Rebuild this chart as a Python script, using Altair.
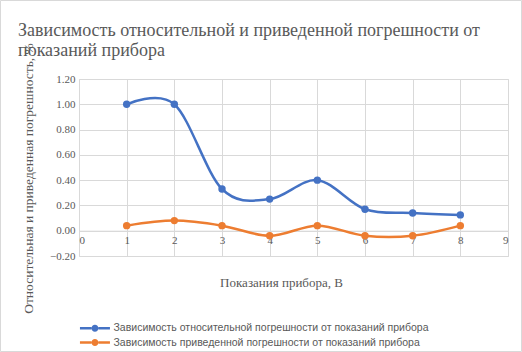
import altair as alt
import pandas as pd

x_vals = [1, 2, 3, 4, 5, 6, 7, 8]
rel_err = [1.00, 1.00, 0.33, 0.25, 0.40, 0.17, 0.14, 0.125]
red_err = [0.04, 0.08, 0.04, -0.04, 0.04, -0.04, -0.04, 0.04]
s1 = "Зависимость относительной погрешности от показаний прибора"
s2 = "Зависимость приведенной погрешности от показаний прибора"
grid_x = [0, 1, 2, 3, 4, 5, 6, 7, 8, 9]
y_ticks = [-0.2, 0.0, 0.2, 0.4, 0.6, 0.8, 1.0, 1.2]

df = pd.DataFrame({
    "x": x_vals * 2,
    "y": rel_err + red_err,
    "s": [s1] * len(x_vals) + [s2] * len(x_vals),
})
frame_df = pd.DataFrame({"k": [0]})

GRID = "#d9d9d9"
TXT = "#595959"
SERIF = "Liberation Serif"

xs = alt.Scale(domain=[0, 9], nice=False, zero=False)
ys = alt.Scale(domain=[-0.2, 1.2], nice=False, zero=False)
color = alt.Color("s:N", scale=alt.Scale(domain=[s1, s2], range=["#4472C4", "#ED7D31"]),
                  legend=alt.Legend(
                      title=None, orient="none", legendX=10.7, legendY=244,
                      direction="vertical",
                      symbolType="M-3,-0.25H-0.7V0.25H-3Z M0.7,-0.25H3V0.25H0.7Z M-0.7,0A0.7,0.7 0 1,0 0.7,0A0.7,0.7 0 1,0 -0.7,0Z",
                      symbolSize=100, symbolStrokeWidth=0, labelOffset=13.3,
                      labelFont="Liberation Sans", labelFontSize=10.5, labelColor=TXT,
                      rowPadding=3.3, padding=0, labelLimit=500))

base = alt.Chart(df).encode(
    x=alt.X("x:Q", scale=xs,
            axis=alt.Axis(values=grid_x, grid=True, gridColor=GRID, domain=True,
                          domainColor=GRID, ticks=False,
                          offset=-25.3, labelPadding=4, labelFont=SERIF, labelFontSize=11,
                          labelColor=TXT, labelOverlap=False,
                          title="Показания прибора, В", titleFont=SERIF,
                          titleFontSize=13, titleFontWeight="normal", titleColor=TXT,
                          titleX=202, titleY=52, titleBaseline="middle", titleAlign="center")),
    y=alt.Y("y:Q", scale=ys,
            axis=alt.Axis(values=y_ticks, format=".2f", grid=True, gridColor=GRID,
                          domain=False, ticks=False, labelPadding=4, labelFont=SERIF,
                          labelFontSize=11, labelColor=TXT, labelOverlap=False,
                          title="Относительная и приведенная погрешность, %",
                          titleFont=SERIF, titleFontSize=13.5, titleFontWeight="normal",
                          titleColor=TXT, titleAngle=270, titleX=-51, titleY=99,
                          titleBaseline="middle", titleAlign="center")),
    color=color,
)
lines = base.mark_line(interpolate="cardinal", strokeWidth=2.5)
points = base.mark_circle(size=55, opacity=1)

border = alt.Chart(frame_df).mark_rect(fill=None, stroke=GRID, strokeWidth=1).encode(
    x=alt.value(-78.5), x2=alt.value(442.5), y=alt.value(-78.5), y2=alt.value(272.5)
)

chart = alt.layer(border, lines, points).properties(
    width=429, height=177,
    padding={"left": 79, "top": 79, "right": 14, "bottom": 96},
    autosize=alt.AutoSizeParams(type="none"),
    title=alt.TitleParams(
        text=["Зависимость относительной и приведенной погрешности от",
              "показаний прибора"],
        anchor="start", frame="group", dx=-61, dy=60, font=SERIF, fontSize=18,
        fontWeight="normal", color=TXT, lineHeight=20, offset=0),
).configure_view(stroke=None).configure(background="white")

chart.save("out.html", embed_options={"renderer": "svg", "actions": False})
